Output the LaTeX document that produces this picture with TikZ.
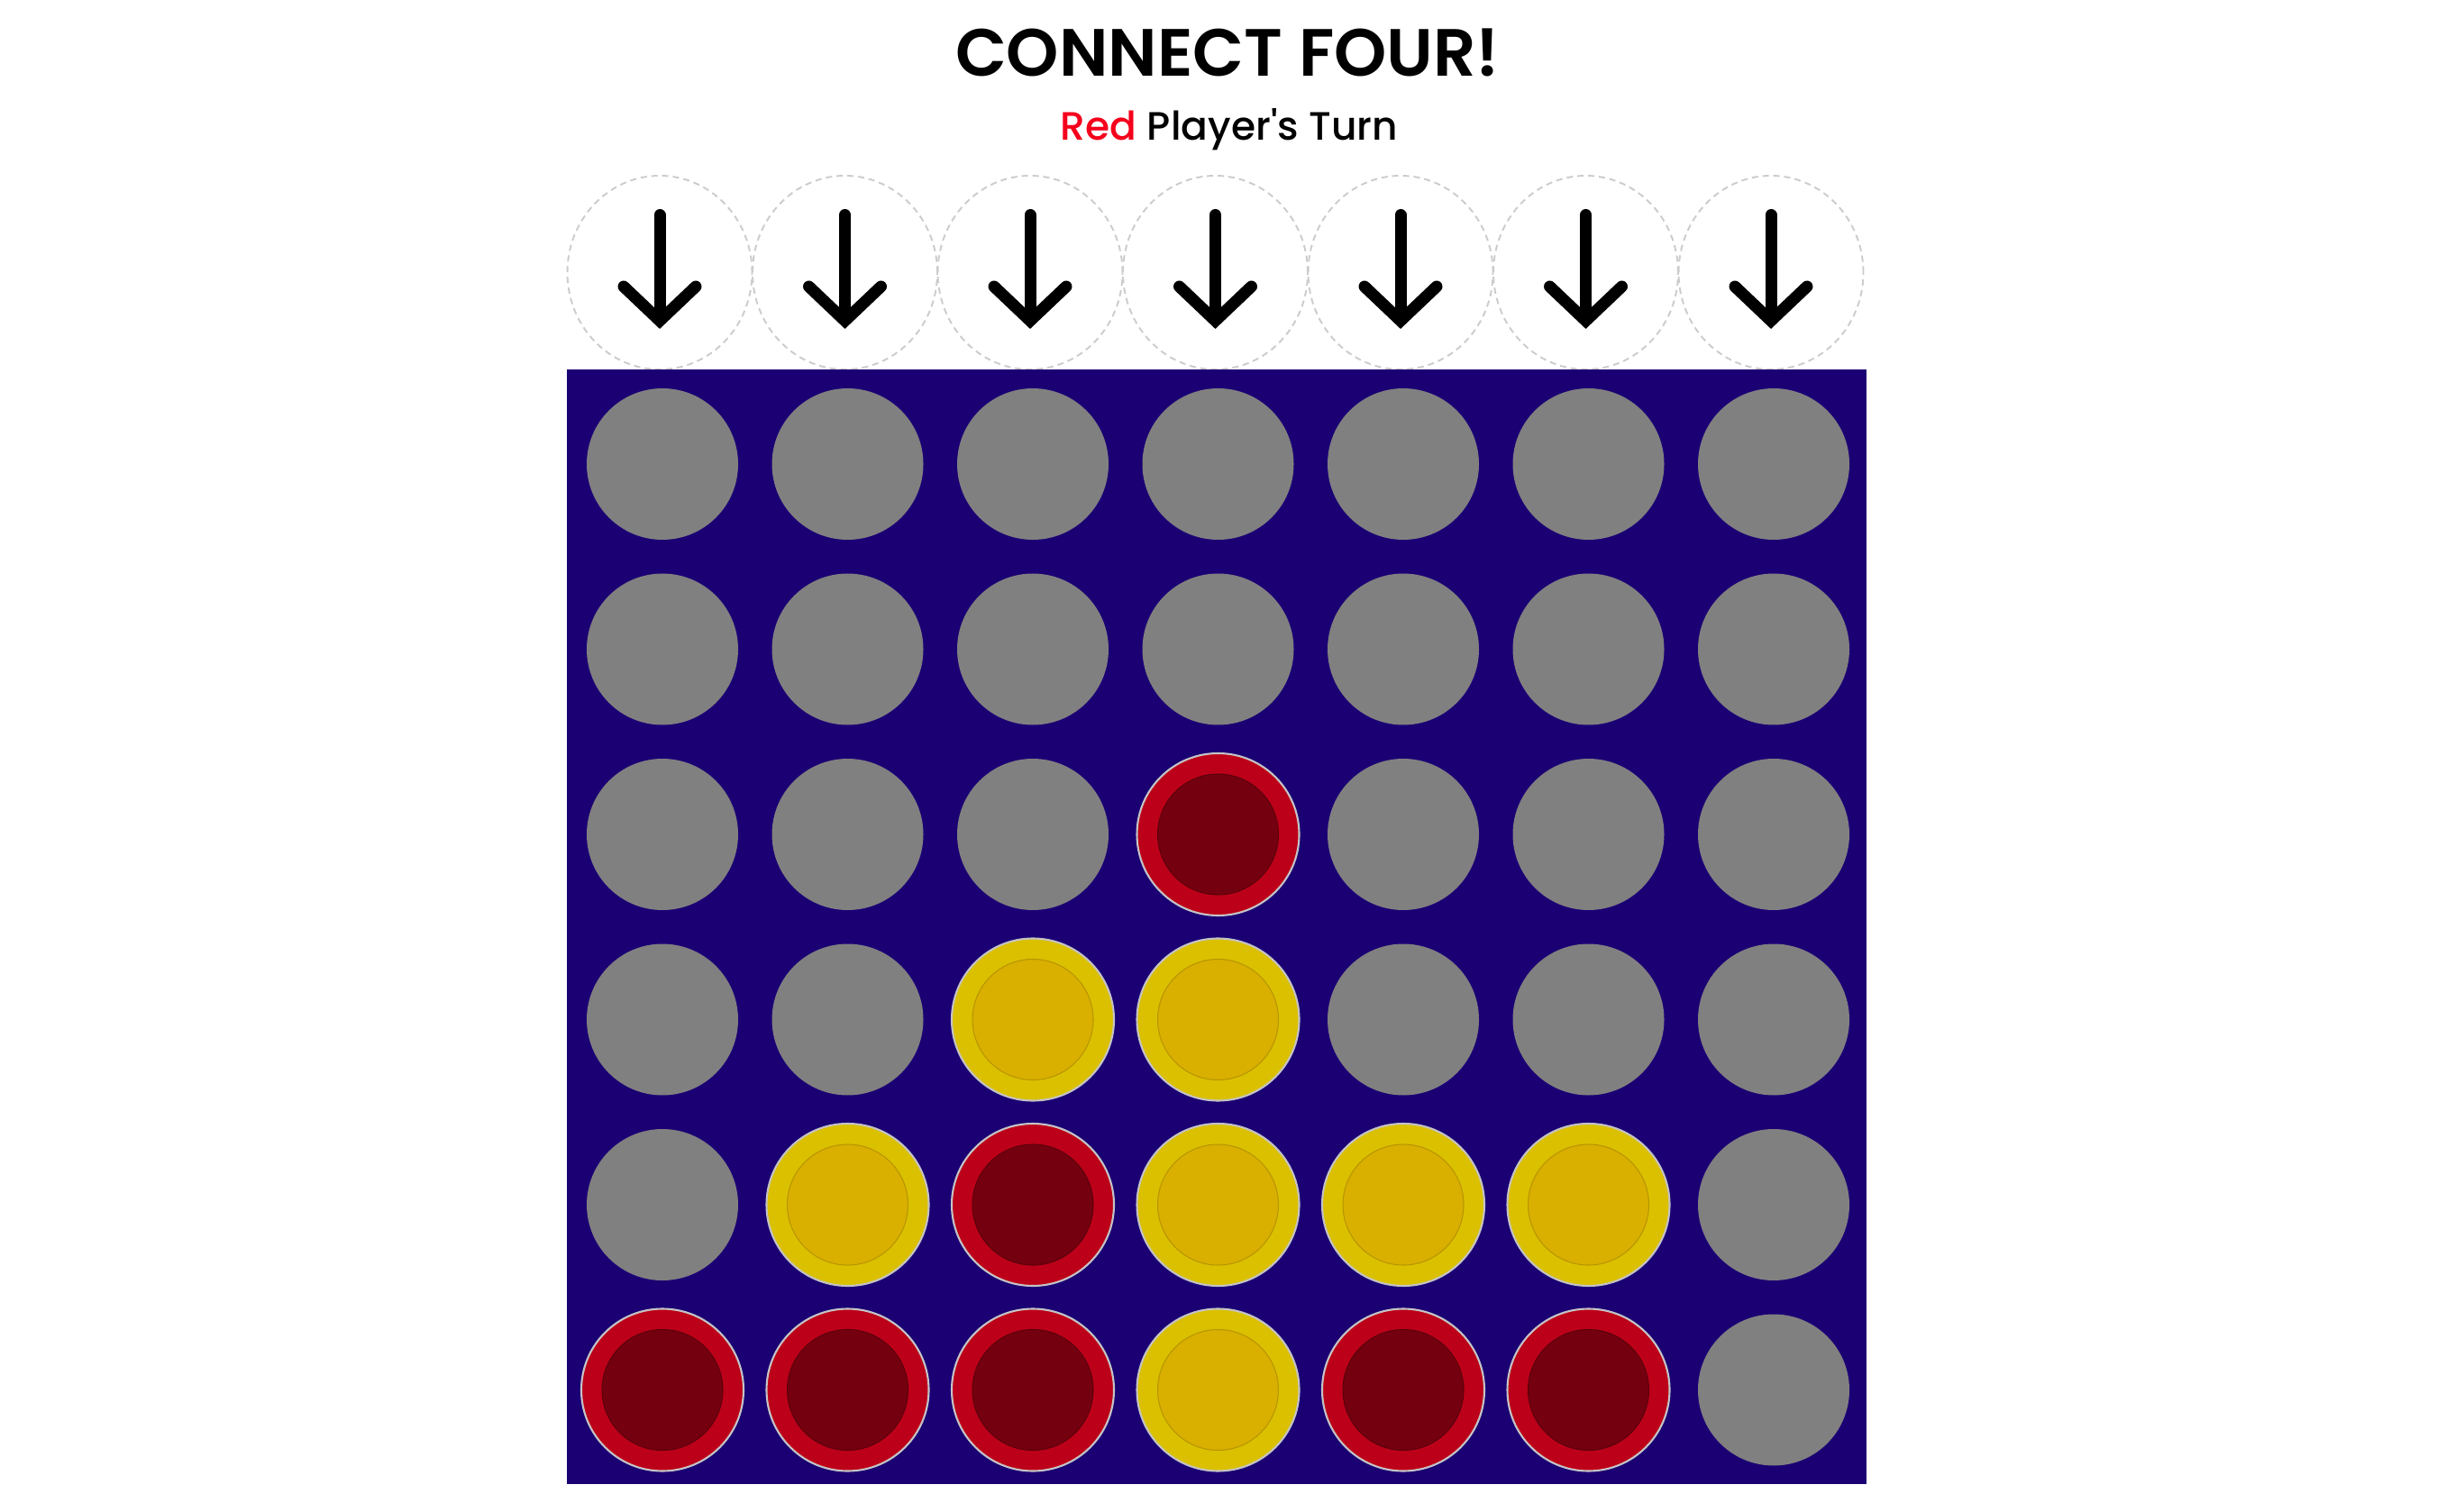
\documentclass[tikz,border=0pt]{standalone}
\usepackage{fontspec}
\setmainfont{Poppins}
\newfontfamily\mediumfont{Poppins Medium}[Ligatures=TeXOff]
\newfontfamily\titlefont{Poppins SemiBold}
\usetikzlibrary{shapes.geometric}
\definecolor{boardblue}{HTML}{1B0074}
\definecolor{slotgray}{HTML}{808080}
\definecolor{redring}{HTML}{BD0019}
\definecolor{redcore}{HTML}{74000F}
\definecolor{yellowring}{HTML}{DBC000}
\definecolor{yellowcore}{HTML}{D9AF00}
\definecolor{rimgray}{HTML}{C4C4C4}
\definecolor{turnred}{HTML}{F5001C}
\definecolor{dashgray}{HTML}{CCCCCC}
\tikzstyle{dotg}=[shape=circle,minimum size=1.68cm,inner sep=0,fill=slotgray]
\tikzstyle{dotr}=[shape=circle,minimum size=1.8cm,inner sep=0,fill=redring,draw=rimgray,line width=0.6pt,
  path picture={\draw[redcore!80!black,fill=redcore,line width=0.3pt] (path picture bounding box.center) circle (0.67cm);}]
\tikzstyle{doty}=[shape=circle,minimum size=1.8cm,inner sep=0,fill=yellowring,draw=rimgray,line width=0.6pt,
  path picture={\draw[yellowcore!85!black,fill=yellowcore,line width=0.3pt] (path picture bounding box.center) circle (0.67cm);}]
\tikzstyle{dropring}=[shape=ellipse,minimum width=2.05cm,minimum height=2.15cm,inner sep=0,draw=dashgray,line width=0.55pt,dash pattern=on 2pt off 1.4pt]
\tikzstyle{droparrow}=[line width=0.13cm,line cap=round,line join=miter]

\begin{document}
\begin{tikzpicture}[y=-1cm]
\useasboundingbox (0,0) rectangle (27.14,16.78);

\node[anchor=base] (title) at (13.62,0.85) {\fontsize{21.1pt}{26pt}\selectfont\titlefont CONNECT FOUR!};
\node[anchor=base] (turn) at (13.64,1.56) {\fontsize{12.5pt}{15pt}\selectfont\mediumfont\textcolor{turnred}{Red} Player's Turn};

% drop buttons
\foreach \c in {1,...,7}{
	\node[dropring] (ring\c) at ({7.32+2.055*(\c-1)},3.025) {};
	\draw[droparrow,shift={(ring\c.center)}] (0,-0.64)--(0,0.48);
	\draw[droparrow,shift={(ring\c.center)}] (-0.40,0.155)--(0,0.535)--(0.40,0.155);
}

% board
\fill[boardblue] (6.29,4.10) rectangle (20.71,16.47);
\foreach \r/\row in {1/{g,g,g,g,g,g,g},2/{g,g,g,g,g,g,g},3/{g,g,g,r,g,g,g},
	4/{g,g,y,y,g,g,g},5/{g,y,r,y,y,y,g},6/{r,r,r,y,r,r,g}}{
	\foreach \k [count=\c] in \row{
		\node[dot\k] (slot-\r-\c) at ({7.35+2.055*(\c-1)},{5.15+2.055*(\r-1)}) {};
		}}
\end{tikzpicture}
\end{document}
